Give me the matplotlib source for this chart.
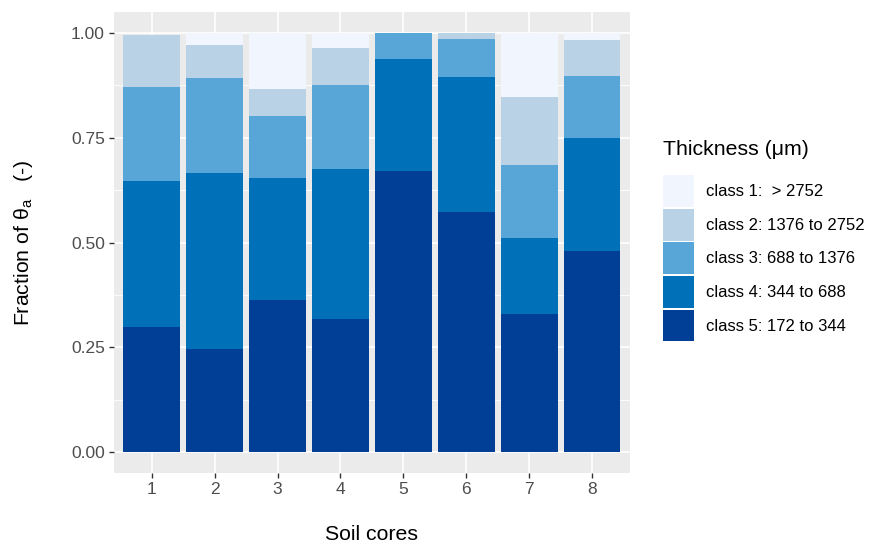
import numpy as np
import matplotlib
matplotlib.use("Agg")
import matplotlib.pyplot as plt
from matplotlib.patches import Patch

plt.rcParams['font.family'] = ['Liberation Sans', 'DejaVu Sans']

# soil cores
cores = ['1', '2', '3', '4', '5', '6', '7', '8']

# fraction of theta_a per thickness class
class5 = [0.298, 0.246, 0.363, 0.317, 0.671, 0.574, 0.330, 0.480]
class4 = [0.349, 0.419, 0.291, 0.358, 0.268, 0.321, 0.180, 0.269]
class3 = [0.225, 0.227, 0.149, 0.202, 0.061, 0.091, 0.175, 0.148]
class2 = [0.123, 0.079, 0.064, 0.086, 0.000, 0.014, 0.163, 0.087]
class1 = [0.000, 0.029, 0.133, 0.037, 0.000, 0.000, 0.152, 0.016]

labels = ['class 1:  > 2752', 'class 2: 1376 to 2752', 'class 3: 688 to 1376',
          'class 4: 344 to 688', 'class 5: 172 to 344']
colors = ['#f1f5fd', '#bad2e6', '#58a6d7', '#0071b9', '#003f95']

fig = plt.figure(figsize=(8.7, 5.45), dpi=100)
ax = fig.add_axes([0.131, 0.132, 0.593, 0.846])
ax.set_facecolor('#ebebeb')

x = np.arange(1, len(cores) + 1)
series = [class5, class4, class3, class2, class1]
bottom = np.zeros(len(cores))
for vals, col in zip(series, colors[::-1]):
    ax.bar(x, vals, width=0.9, bottom=bottom, color=col, zorder=3)
    bottom += np.array(vals)

# ggplot-like grid
ax.set_xlim(0.4, 8.6)
ax.set_ylim(-0.05, 1.05)
ax.set_xticks(x)
ax.set_xticklabels(cores)
ax.set_yticks([0, 0.25, 0.5, 0.75, 1.0])
ax.set_yticklabels(['0.00', '0.25', '0.50', '0.75', '1.00'])
ax.set_yticks([0.125, 0.375, 0.625, 0.875], minor=True)
ax.grid(which='major', color='white', linewidth=1.2, zorder=0)
ax.grid(which='minor', axis='y', color='white', linewidth=0.6, zorder=0)
ax.set_axisbelow(True)
for s in ax.spines.values():
    s.set_visible(False)
ax.tick_params(axis='both', which='major', length=3.5, width=1, color='#333333',
               labelcolor='#4d4d4d', labelsize=12.5, pad=3)
ax.tick_params(which='minor', length=0)

ax.set_xlabel('Soil cores', fontsize=15.3, labelpad=20)
ax.set_ylabel(r'Fraction of $\mathregular{\theta_a}$   (-)', fontsize=15.3, labelpad=26)

handles = [Patch(facecolor=c, edgecolor='none') for c in colors]
leg = fig.legend(handles, labels, title='Thickness (\u03bcm)', loc='upper left',
                 bbox_to_anchor=(0.762, 0.744), frameon=False, fontsize=12,
                 title_fontsize=15.3, handlelength=1.86, handleheight=2.57,
                 handletextpad=0.75, labelspacing=0.1, borderaxespad=0,
                 borderpad=0)
leg._legend_box.align = 'left'
leg._legend_box.sep = 12

fig.savefig('out.png', dpi=100)
